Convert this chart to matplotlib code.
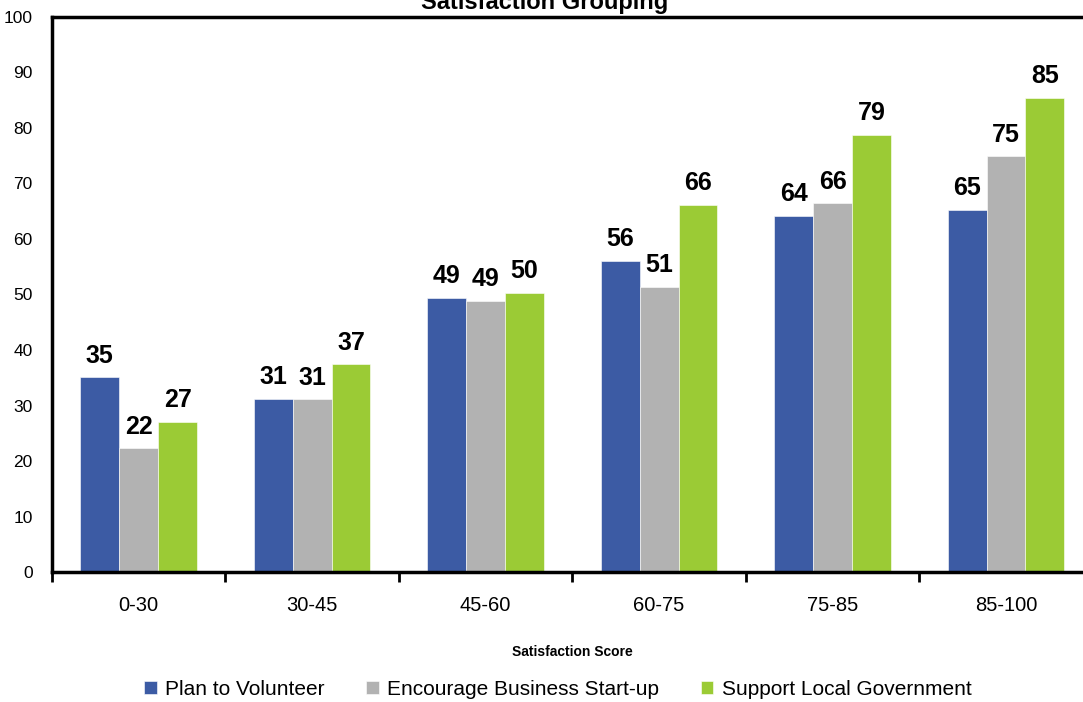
import numpy as np
import matplotlib.pyplot as plt

plt.rcParams['font.family'] = ['Liberation Sans', 'DejaVu Sans']

categories = ['0-30', '30-45', '45-60', '60-75', '75-85', '85-100']
series_names = ['Plan to Volunteer', 'Encourage Business Start-up', 'Support Local Government']
plan_volunteer = [35.1, 31.2, 49.4, 56.0, 64.2, 65.3]
encourage_business = [22.3, 31.1, 48.8, 51.4, 66.4, 74.9]
support_government = [27.1, 37.4, 50.3, 66.1, 78.8, 85.4]
colors = ['#3C5BA4', '#B2B2B2', '#9BCB35']

fig = plt.figure(figsize=(10.83, 7.02), dpi=100)
ax = fig.add_axes([0.048, 0.185, 0.961, 0.791])

x = np.arange(len(categories))
width = 0.224
all_series = [plan_volunteer, encourage_business, support_government]
for i, (vals, name, col) in enumerate(zip(all_series, series_names, colors)):
    pos = x + (i - 1) * width
    ax.bar(pos, vals, width, color=col, label=name, edgecolor='white', linewidth=0.4)
    for px, v in zip(pos, vals):
        ax.annotate(f'{v:.0f}', (px, v), xytext=(0, 7), textcoords='offset points',
                    ha='center', va='bottom', fontsize=18, fontweight='bold')

ax.set_xlim(-0.5, len(categories) - 0.5)
ax.set_ylim(0, 100)
ax.set_yticks(range(0, 101, 10))
ax.tick_params(axis='y', length=0, labelsize=12.5, pad=14)

# group boundary ticks on the x axis, labels in the middle
ax.set_xticks(np.arange(-0.5, len(categories)), minor=False)
ax.set_xticklabels([])
ax.set_xticks(x, minor=True)
ax.set_xticklabels(categories, minor=True, fontsize=14.5)
ax.tick_params(axis='x', which='major', direction='out', length=7, width=2)
ax.tick_params(axis='x', which='minor', length=0, pad=17)

for s in ['left', 'bottom', 'top', 'right']:
    ax.spines[s].set_linewidth(2.5)

ax.set_xlabel('Satisfaction Score', fontsize=10, fontweight='bold', labelpad=22)
fig.text(0.503, 0.996, 'Satisfaction Grouping', ha='center', va='center',
         fontsize=17, fontweight='bold')

fig.legend(loc='center', bbox_to_anchor=(0.515, 0.018), ncol=3, frameon=False,
           fontsize=15, handlelength=0.6, handleheight=0.6, handletextpad=0.4,
           columnspacing=2.0)

fig.savefig('out.png', dpi=100)
